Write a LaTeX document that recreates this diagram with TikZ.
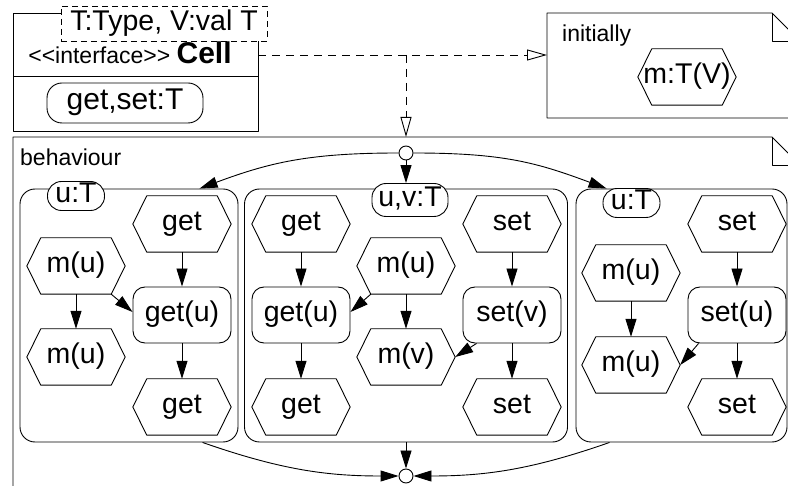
\documentclass[tikz,border=0pt]{standalone}
\usepackage{fontspec}
\setmainfont{Liberation Sans}
\usetikzlibrary{arrows.meta,calc}
\newcommand\bigfont{\fontsize{28.5}{32}\selectfont}
\newcommand\smallfont{\fontsize{23}{27}\selectfont}
\newcommand\hexat[4]{%
  \node[hexbox] (#1) at (#2,#3) {#4};
  \draw[outline] (#1.west) -- ($(#1.north west)+(14,0)$) -- ($(#1.north east)+(-14,0)$) -- (#1.east) -- ($(#1.south east)+(-14,0)$) -- ($(#1.south west)+(14,0)$) -- cycle;}
\begin{document}
\begin{tikzpicture}[x=1pt,y=-1pt,
  outline/.style={draw=black,line width=0.9pt,line join=round},
  hexbox/.style={rectangle,minimum width=98pt,minimum height=56pt,inner sep=0pt,font=\bigfont,text height=20pt,text depth=6pt},
  actbox/.style={outline,rectangle,rounded corners=12pt,fill=white,minimum width=98pt,minimum height=56pt,inner sep=0pt,font=\bigfont,text height=20pt,text depth=6pt},
  pill/.style={outline,rectangle,rounded corners=14pt,fill=white,inner sep=0pt,font=\bigfont,text height=20pt,text depth=6pt},
  region/.style={outline,rectangle,rounded corners=15pt,inner sep=0pt,minimum height=253pt},
  arr/.style={line width=0.9pt,-{Triangle[length=18pt,width=11pt]}},
  dep/.style={line width=0.9pt,dash pattern=on 8pt off 6pt,-{Triangle[open,length=20pt,width=11pt]}},
  bar/.style={outline,circle,fill=white,minimum size=14pt,inner sep=0pt},
  note/.style={font=\smallfont,inner sep=0pt,anchor=west,text height=16pt,text depth=5pt}]
\useasboundingbox (0,0) rectangle (788,486);
\clip (0,0) rectangle (788,486);
% interface
\node[outline,rectangle,minimum width=245pt,minimum height=118pt,inner sep=0pt] (iface) at (135.5,72) {};
\draw[outline] (13,76) -- (258,76);
\node[outline,dashed,dash pattern=on 6pt off 4pt,fill=white,rectangle,minimum width=206pt,minimum height=35pt,inner sep=0pt,font=\bigfont,text height=20pt,text depth=6pt] (tparam) at (164,23.5) {T:Type, V:val T};
\node[inner sep=0pt,font=\smallfont,text height=16pt,text depth=5pt] (ifname) at (130,58) {<\kern0pt<interface>\kern0pt> {\fontsize{30}{34}\selectfont\bfseries Cell}};
\node[pill,rounded corners=15pt,minimum width=156pt,minimum height=40pt,font=\fontsize{30}{34}\selectfont] (ops) at (125,103) {get,set:T};
% initially
\draw[outline] (547,13) -- (772,13) -- (800,41) -- (800,118) -- (547,118) -- cycle;
\draw[outline] (772,13) -- (772,41) -- (800,41);
\node[note] (initlbl) at (562,36) {initially};
\hexat{init}{687}{77}{m:T(V)}
% behaviour
\draw[outline] (13,137) -- (772,137) -- (800,165) -- (800,520) -- (13,520) -- cycle;
\draw[outline] (772,137) -- (772,165) -- (800,165);
\node[note] (behlbl) at (20,160) {behaviour};
% dependency arrows
\coordinate (ifE) at (258,55);
\coordinate (initW) at (547,55);
\coordinate (br) at (406,55);
\coordinate (behN) at (406,137);
\draw[dep] (ifE) -- (initW);
\draw[dep] (br) -- (behN);
% regions
\node[region,minimum width=218pt] (lreg) at (129,315.5) {};
\node[region,minimum width=323pt] (mreg) at (406,315.5) {};
\node[region,minimum width=211pt] (rreg) at (681.5,315.5) {};
\node[pill,minimum width=57pt,minimum height=29pt] (lut) at (76,196) {u:T};
\node[pill,minimum width=76pt,minimum height=33pt] (mut) at (410,200) {u,v:T};
\node[pill,minimum width=57pt,minimum height=29pt] (rut) at (631.5,203) {u:T};
% left region
\hexat{lget}{182}{224}{get}
\hexat{lmu}{76}{266}{m(u)}
\node[actbox] (lgetu) at (182,315) {get(u)};
\hexat{lmu2}{76}{357}{m(u)}
\hexat{lget2}{182}{407}{get}
\draw[arr] (lget) -- (lgetu);
\draw[arr] (lmu) -- (lmu2);
\draw[arr] ($(lmu.south east)+(-14,0)$) -- ($(lgetu.west)+(0,-3)$);
\draw[arr] (lgetu) -- (lget2);
% middle region
\hexat{mget}{301}{224}{get}
\hexat{mmu}{406}{266}{m(u)}
\hexat{mset}{512}{224}{set}
\node[actbox] (mgetu) at (301,315) {get(u)};
\node[actbox] (msetv) at (512,315) {set(v)};
\hexat{mmv}{406}{357}{m(v)}
\hexat{mget2}{301}{407}{get}
\hexat{mset2}{512}{407}{set}
\draw[arr] (mget) -- (mgetu);
\draw[arr] ($(mmu.south west)+(14,0)$) -- ($(mgetu.east)+(0,-3)$);
\draw[arr] (mmu) -- (mmv);
\draw[arr] (mset) -- (msetv);
\draw[arr] ($(msetv.south west)+(14,0)$) -- (mmv.east);
\draw[arr] (mgetu) -- (mget2);
\draw[arr] (msetv) -- (mset2);
% right region
\hexat{rset}{737}{224}{set}
\hexat{rmu}{631}{273}{m(u)}
\node[actbox] (rsetu) at (737,315) {set(u)};
\hexat{rmu2}{631}{365}{m(u)}
\hexat{rset2}{737}{407}{set}
\draw[arr] (rset) -- (rsetu);
\draw[arr] (rmu) -- (rmu2);
\draw[arr] ($(rsetu.south west)+(11,0)$) -- (rmu2.east);
\draw[arr] (rsetu) -- (rset2);
% fork and join
\node[bar] (fork) at (406,153) {};
\node[bar] (join) at (406,476) {};
\coordinate (lin) at ($(lreg.north west)+(180,0)$);
\coordinate (rin) at ($(rreg.north west)+(31,0)$);
\coordinate (lout) at ($(lreg.south west)+(183,0)$);
\coordinate (rout) at ($(rreg.south west)+(34,0)$);
\draw[arr] (fork.west) .. controls +(-90,0) and +(70,-26) .. (lin);
\draw[arr] (fork.east) .. controls +(90,0) and +(-70,-26) .. (rin);
\draw[arr] (fork.south) -- (fork.south |- mut.north);
\draw[arr] (lout) .. controls +(80,28) and +(-70,0) .. (join.west);
\draw[arr] (rout) .. controls +(-80,28) and +(70,0) .. (join.east);
\draw[arr] (mreg.south) -- (join.north);
\end{tikzpicture}
\end{document}
